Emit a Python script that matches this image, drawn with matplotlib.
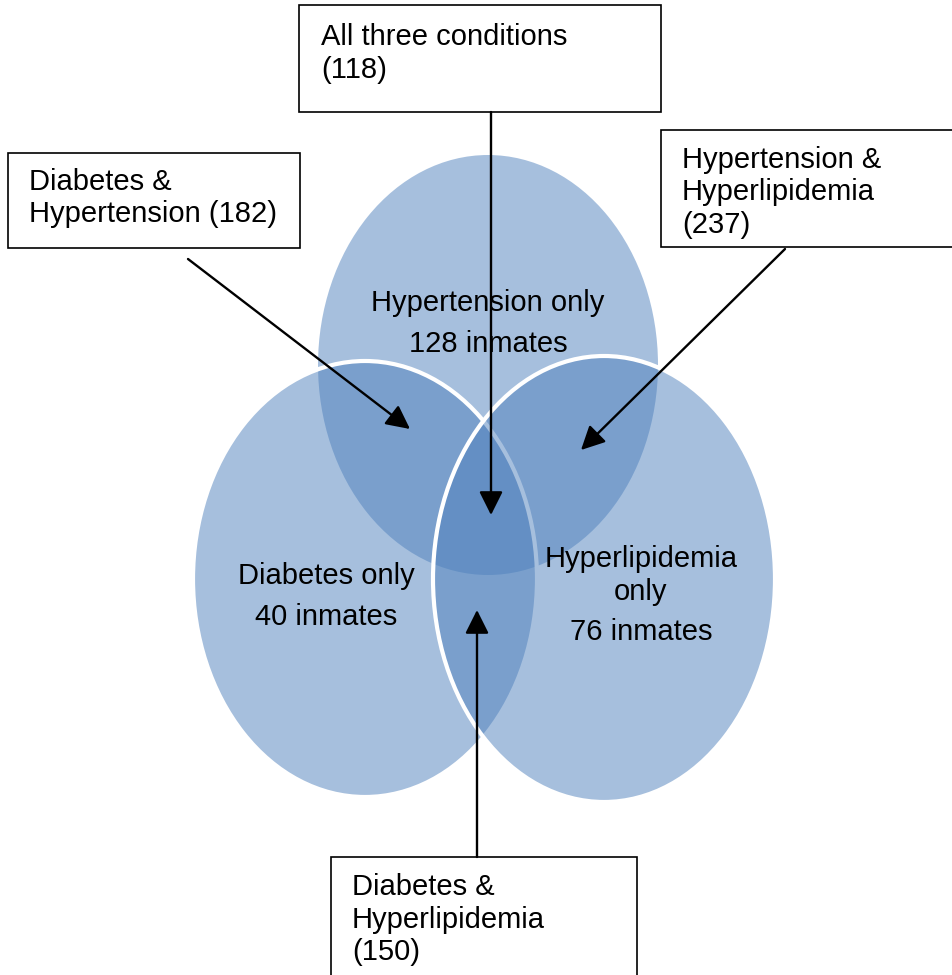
import matplotlib
import matplotlib.pyplot as plt
from matplotlib.patches import Ellipse, Rectangle

matplotlib.use("AGG")

plt.rcParams["font.family"] = ["Liberation Sans", "DejaVu Sans"]

# condition sets (drawn in this order: hypertension, diabetes, hyperlipidemia)
set_names = ["Hypertension", "Diabetes", "Hyperlipidemia"]
only_counts = [128, 40, 76]

# overlap counts
pair_names = ["Diabetes & Hypertension", "Hypertension & Hyperlipidemia",
              "Diabetes & Hyperlipidemia"]
pair_counts = [182, 237, 150]
all_three = 118

BLUE = "#4F81BD"
FS = 21

fig = plt.figure(figsize=(9.53, 9.75), dpi=100)
ax = fig.add_axes([0, 0, 1, 1])
ax.set_xlim(0, 953)
ax.set_ylim(975, 0)
ax.axis("off")

# ellipses: (centre x, centre y, width, height, edge width)
shapes = [
    (488, 365, 340, 420, 0),
    (365, 579, 344, 436, 3),
    (604, 579, 342, 446, 3),
]
for cx, cy, w, h, lw in shapes:
    ax.add_patch(Ellipse((cx, cy), w, h, facecolor=BLUE, alpha=0.5,
                         edgecolor="none", zorder=1))
    if lw:
        ax.add_patch(Ellipse((cx, cy), w, h, facecolor="none",
                             edgecolor="white", lw=lw, zorder=1))


def lines(x, y0, rows, step=32.5, ha="left"):
    for i, row in enumerate(rows):
        ax.text(x, y0 + i * step, row, fontsize=FS, ha=ha, va="baseline",
                color="black", zorder=5)


def box(x0, y0, x1, y1):
    ax.add_patch(Rectangle((x0, y0), x1 - x0, y1 - y0, facecolor="white",
                           edgecolor="black", lw=1.2, zorder=3,
                           clip_on=True))


def arrow(start, end):
    ax.annotate("", xy=end, xytext=start, zorder=4,
                arrowprops=dict(arrowstyle="-|>", color="black", lw=1.7,
                                mutation_scale=36, shrinkA=0, shrinkB=0))


# labels inside the sets
lines(488, 311, ["%s only" % set_names[0], "%d inmates" % only_counts[0]],
      step=41, ha="center")
lines(326, 584, ["%s only" % set_names[1], "%d inmates" % only_counts[1]],
      step=41, ha="center")
lines(641, 567, [set_names[2], "only"], ha="center")
ax.text(641, 640, "%d inmates" % only_counts[2], fontsize=FS, ha="center",
        va="baseline", zorder=5)

# callout boxes
box(299, 5, 661, 112)
lines(321, 45, ["All three conditions", "(%d)" % all_three])

box(8, 153, 300, 248)
lines(29, 190, ["Diabetes &", "Hypertension (%d)" % pair_counts[0]])

box(661, 130, 960, 247)
lines(682, 168, ["Hypertension &", "Hyperlipidemia", "(%d)" % pair_counts[1]])

box(331, 857, 637, 990)
lines(352, 895, ["Diabetes &", "Hyperlipidemia", "(%d)" % pair_counts[2]])

# arrows from boxes into the overlaps
arrow((491, 112), (491, 515))
arrow((188, 259), (410, 429))
arrow((785, 249), (581, 450))
arrow((477, 857), (477, 610))

fig.savefig("out.png", dpi=100)
